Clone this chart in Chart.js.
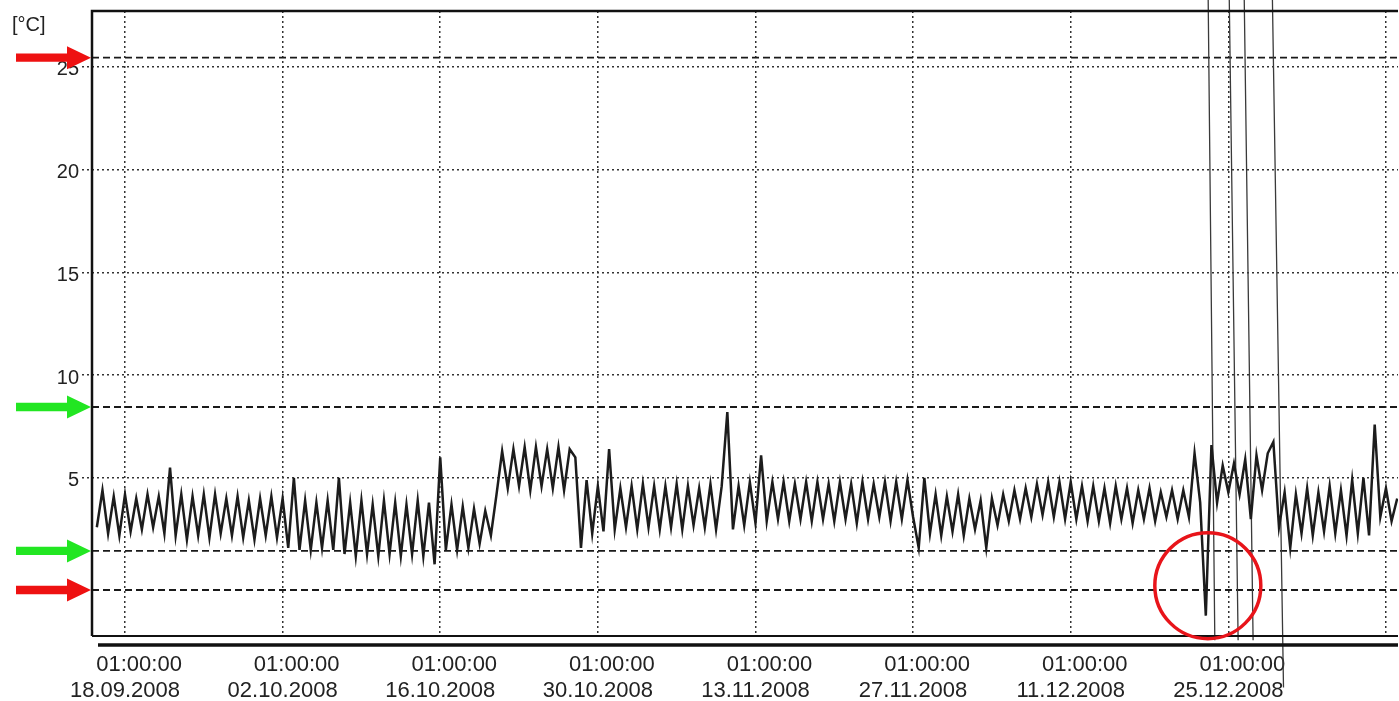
<!DOCTYPE html>
<html><head><meta charset="utf-8">
<script src="https://cdn.jsdelivr.net/npm/chart.js@4.4.1/dist/chart.umd.min.js"></script>
<style>html,body{margin:0;padding:0;background:#fff;}#wrap{position:relative;width:1399px;height:701px;}canvas{display:block;}</style>
</head><body><div id="wrap"><canvas id="c" width="1399" height="701" style="width:1399px;height:701px;"></canvas></div>
<script>
// ---- data (days after 18.09.2008 01:00, half-day readings) ----
const startDay = -2.5;
const stepDays = 0.5;
const temps = [
  2.6,4.4,2.3,4.1,2.2,4.2,2.4,4.0,2.5,4.2,   // -2.5
  2.6,4.1,2.3,5.5,2.2,4.2,2.0,4.1,2.2,4.2,   // 2.5
  2.1,4.2,2.3,4.0,2.2,4.1,2.1,3.9,2.0,4.0,   // 7.5
  2.2,4.1,2.1,4.0,1.6,5.0,1.5,3.9,1.5,3.8,   // 12.5
  1.6,3.9,1.5,5.0,1.3,3.8,1.2,3.9,1.3,3.7,   // 17.5
  1.2,3.9,1.3,3.8,1.2,3.7,1.3,3.9,1.2,3.8,   // 22.5
  0.8,6.0,1.5,3.7,1.5,3.6,1.6,3.5,1.8,3.4,   // 27.5
  2.2,4.2,6.3,4.5,6.4,4.6,6.5,4.4,6.5,4.6,   // 32.5
  6.4,4.5,6.5,4.4,6.4,6.0,1.6,4.9,2.3,4.6,   // 37.5
  2.4,6.4,2.5,4.5,2.6,4.6,2.5,4.7,2.6,4.6,   // 42.5
  2.5,4.6,2.6,4.7,2.5,4.6,2.7,4.5,2.6,4.7,   // 47.5
  2.5,4.6,8.2,2.5,4.6,2.7,4.8,2.8,6.1,2.9,   // 52.5
  4.8,3.0,4.8,2.9,4.7,3.0,4.8,2.9,4.8,3.0,   // 57.5
  4.7,2.9,4.8,3.0,4.7,2.8,4.8,3.0,4.7,3.1,   // 62.5
  4.8,2.9,4.8,3.0,4.9,3.1,1.6,5.0,2.3,4.2,   // 67.5
  2.2,4.1,2.4,4.2,2.2,4.0,2.5,3.9,1.6,4.0,   // 72.5
  2.7,4.2,2.9,4.4,3.0,4.5,3.1,4.7,3.2,4.8,   // 77.5
  3.1,4.8,3.0,4.8,3.0,4.6,2.9,4.6,2.9,4.5,   // 82.5
  2.8,4.6,3.0,4.5,2.8,4.4,3.0,4.5,2.9,4.3,   // 87.5
  3.1,4.4,3.0,4.4,3.1,6.2,3.8,-1.7,6.6,3.8,  // 92.5
  5.6,4.3,5.7,4.2,5.9,3.0,6.1,4.4,6.2,6.75,  // 97.5
  2.6,4.3,1.6,4.2,2.3,4.5,2.2,4.3,2.4,4.6,   // 102.5
  2.3,4.4,2.2,4.9,2.3,5.0,2.2,7.6,3.1,4.5,   // 107.5
  2.9,4.0                                    // 112.5
];
const tickDays  = [0,14,28,42,56,70,84,98,112];
const tickTimes = ['01:00:00','01:00:00','01:00:00','01:00:00','01:00:00','01:00:00','01:00:00','01:00:00',''];
const tickDates = ['18.09.2008','02.10.2008','16.10.2008','30.10.2008','13.11.2008','27.11.2008','11.12.2008','25.12.2008',''];
const yTicks = [5,10,15,20,25];
const thresholds = [25.45, 8.45, 1.45, -0.45];
const thresholdKinds = ['red','green','green','red'];
// scanned pencil lines crossing the chart (day at top edge / bottom edge)
const scanTopDays    = [96.2, 98.07, 99.4, 101.9];
const scanBottomDays = [96.8, 98.87, 100.2, 102.9];
const scanBottomTemps = [-2.9, -2.9, -2.9, -5.2];
const scanTopTemp = 28.8;

const X_MIN = -2.93, X_MAX = 113.07, Y_MIN = -2.69, Y_MAX = 27.72;
const FONT = '"Liberation Sans", Arial, sans-serif';

const series = temps.map((t,i)=>({x:startDay+i*stepDays, y:t}));
const scanData = [];
scanTopDays.forEach((d,i)=>{
  scanData.push({x:d,y:scanTopTemp},{x:scanBottomDays[i],y:scanBottomTemps[i]},{x:scanBottomDays[i],y:null});
});
const thresholdSets = thresholds.map(t=>({
  data:[{x:X_MIN,y:t},{x:X_MAX,y:t}],
  borderColor:'#1a1a1a', borderWidth:1.9, borderDash:[7,4], pointRadius:0, order:3
}));

const arrowColors = {red:'#ee1111', green:'#22e622'};
function drawArrow(ctx, x0, x1, py, color){
  const headLen = 24, headHalf = 11.5, shaftHalf = 4.2;
  ctx.fillStyle = color;
  ctx.beginPath();
  ctx.moveTo(x0, py-shaftHalf);
  ctx.lineTo(x1-headLen, py-shaftHalf);
  ctx.lineTo(x1-headLen, py-headHalf);
  ctx.lineTo(x1, py);
  ctx.lineTo(x1-headLen, py+headHalf);
  ctx.lineTo(x1-headLen, py+shaftHalf);
  ctx.lineTo(x0, py+shaftHalf);
  ctx.closePath();
  ctx.fill();
}

const decor = {
  id:'decor',
  beforeDraw(chart){
    const ctx = chart.ctx; ctx.save(); ctx.fillStyle='#fff'; ctx.fillRect(0,0,chart.width,chart.height); ctx.restore();
  },
  afterDraw(chart){
    const {ctx, chartArea:a, scales:{x,y}} = chart;
    ctx.save();
    ctx.strokeStyle='#111'; ctx.lineCap='butt';
    ctx.lineWidth=2.5;
    ctx.beginPath(); ctx.moveTo(a.left,a.bottom); ctx.lineTo(a.left,a.top); ctx.lineTo(a.right,a.top); ctx.stroke();
    ctx.lineWidth=2;
    ctx.beginPath(); ctx.moveTo(a.left,a.bottom); ctx.lineTo(a.right,a.bottom); ctx.stroke();
    ctx.lineWidth=3.5;
    ctx.beginPath(); ctx.moveTo(a.left+6,a.bottom+9); ctx.lineTo(a.right,a.bottom+9); ctx.stroke();
    // unit
    ctx.fillStyle='#222'; ctx.font='20px '+FONT; ctx.textBaseline='middle'; ctx.textAlign='left';
    ctx.fillText('[°C]', 12, 25);
    // arrows
    thresholds.forEach((t,i)=>{
      drawArrow(ctx, 16, a.left-1, y.getPixelForValue(t), arrowColors[thresholdKinds[i]]);
    });
    // red circle around the minimum
    let mi = 0; temps.forEach((t,i)=>{ if(t<temps[mi]) mi=i; });
    const cx = x.getPixelForValue(startDay+mi*stepDays)+2, cy = y.getPixelForValue(temps[mi])-30;
    ctx.strokeStyle='#e8141a'; ctx.lineWidth=3.5;
    ctx.beginPath(); ctx.arc(cx, cy, 53, 0, Math.PI*2); ctx.stroke();
    ctx.restore();
  }
};

new Chart(document.getElementById('c'), {
  type:'line',
  data:{datasets:[
    {data:series, borderColor:'#1c1c1c', borderWidth:2.5, pointRadius:0, tension:0, order:1},
    {data:scanData, borderColor:'#3a3a3a', borderWidth:1.3, pointRadius:0, spanGaps:false, clip:false, order:2},
    ...thresholdSets
  ]},
  options:{
    responsive:false, animation:false, devicePixelRatio:1,
    layout:{padding:{top:11,right:1,left:0,bottom:0}, autoPadding:false},
    plugins:{legend:{display:false}, tooltip:{enabled:false}},
    scales:{
      x:{type:'linear', min:X_MIN, max:X_MAX,
        afterBuildTicks:s=>{s.ticks = tickDays.map(v=>({value:v}));},
        afterFit:s=>{s.height=65; s.paddingLeft=0; s.paddingRight=0;},
        ticks:{autoSkip:false, maxRotation:0, padding:16, color:'#222',
          font:{family:FONT, size:22, lineHeight:1.18},
          callback:(v,i)=>[tickTimes[i] ? '\u2003 '+tickTimes[i] : '', tickDates[i]]},
        grid:{color:'#333', lineWidth:1.5, drawTicks:false},
        border:{display:false, dash:[2,3]}
      },
      y:{type:'linear', min:Y_MIN, max:Y_MAX,
        afterBuildTicks:s=>{s.ticks = yTicks.map(v=>({value:v}));},
        afterFit:s=>{s.width=92; s.paddingTop=0; s.paddingBottom=0;},
        ticks:{padding:3, labelOffset:3, color:'#222', font:{family:FONT, size:20}},
        grid:{color:'#333', lineWidth:1.5, drawTicks:true, tickLength:10, tickBorderDash:[2,3], tickColor:'#333'},
        border:{display:false, dash:[2,3]}
      }
    }
  },
  plugins:[decor]
});
</script></body></html>
